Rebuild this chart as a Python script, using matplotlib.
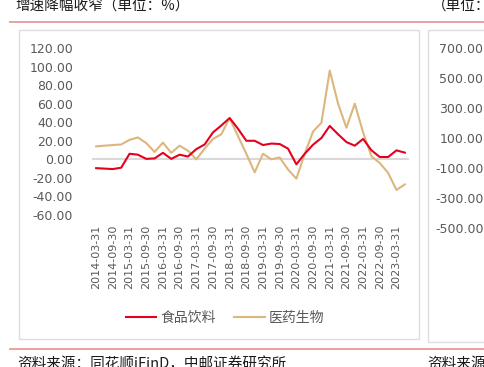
import matplotlib
matplotlib.use("Agg")
import matplotlib.pyplot as plt
import pandas as pd
from matplotlib.patches import Rectangle
from matplotlib.lines import Line2D

plt.rcParams['font.family'] = ['Noto Sans CJK SC', 'DejaVu Sans']

# 季度末日期 2014Q1 ~ 2023Q2
dates = pd.date_range("2014-03-31", periods=38, freq="QE").strftime("%Y-%m-%d").tolist()

# 食品饮料 增速 (%)
food = [-9.5, -10, -10.5, -9, 6, 5, 0.5, 1, 7, 0.5, 5, 3,
        11, 16, 29, 36.5, 44.5, 33, 20, 20, 15.4, 17, 16.5, 11.5,
        -5.4, 6, 15.8, 23, 36, 27, 18.6, 14.7, 22, 9.7, 2.5, 2.5,
        9.7, 7.2]
# 医药生物 增速 (%)
pharma = [14, 14.7, 15.4, 16, 21, 23.6, 17.5, 8, 18, 7, 14.7, 9.3,
          0, 11.5, 22, 27, 44.5, 25, 6, -14, 6, 0, 2, -11,
          -20.8, 6, 30, 39.4, 95.7, 60, 34, 60, 29, 3.2, -4, -14.7,
          -33, -27]

W, H = 485, 367
fig = plt.figure(figsize=(W / 100, H / 100), dpi=100)


def fx(px):
    return px / W


def fy(py):
    return 1 - py / H


# 标题与分隔线
fig.text(fx(15), fy(11), "增速降幅收窄（单位：%）", fontsize=10.5, color="#1a1a1a", va="baseline")
fig.text(fx(432), fy(11), "（单位：", fontsize=10.5, color="#1a1a1a", va="baseline")
fig.add_artist(Line2D([fx(10), 1], [fy(22), fy(22)], color="#E89A9A", lw=1.3))
fig.add_artist(Line2D([fx(10), 1], [fy(349), fy(349)], color="#E89A9A", lw=1.3))
fig.text(fx(17), fy(357), "资料来源：同花顺iFinD，中邮证券研究所", fontsize=10.5, color="#1a1a1a", va="top")
fig.text(fx(427), fy(357), "资料来源", fontsize=10.5, color="#1a1a1a", va="top")

# 面板边框
fig.add_artist(Rectangle((fx(19), fy(339)), fx(400), (339 - 30) / H, fill=False, edgecolor="#DDDDDD", lw=1))
fig.add_artist(Rectangle((fx(428), fy(342)), fx(80), (342 - 30) / H, fill=False, edgecolor="#DDDDDD", lw=1))

# 左图
ax = fig.add_axes([fx(92), fy(215), fx(409 - 92), (215 - 48) / H])
x = list(range(len(dates)))
ax.axhline(0, color="#D9D9D9", lw=1.5, zorder=1)
ax.plot(x, food, color="#E60020", lw=1.5, label="食品饮料", zorder=3)
ax.plot(x, pharma, color="#DDB67F", lw=1.5, label="医药生物", zorder=2)
ax.set_xlim(-0.5, len(dates) - 0.5)
ax.set_ylim(-60, 120)
ax.set_yticks(range(-60, 121, 20))
ax.set_yticklabels([f"{v:.2f}" for v in range(-60, 121, 20)], family="DejaVu Sans", fontsize=9, color="#595959")
ax.set_xticks(x[::2])
ax.set_xticklabels(dates[::2], rotation=90, family="DejaVu Sans", fontsize=8, color="#595959")
ax.tick_params(axis="y", length=0, pad=13.5)
ax.tick_params(axis="x", length=0, pad=7)
for s in ax.spines.values():
    s.set_visible(False)
ax.patch.set_alpha(0)

fig.legend(loc="center", bbox_to_anchor=(fx(225), fy(318)), ncol=2, frameon=False,
           fontsize=10, labelcolor="#595959", handlelength=2.2, handletextpad=0.3,
           columnspacing=1.3)

# 右图 (被截断)
ax2 = fig.add_axes([fx(489), fy(228), 0.3, (228 - 48) / H])
ax2.set_ylim(-500, 700)
ax2.set_yticks(range(-500, 701, 200))
ax2.set_yticklabels([f"{v:.2f}" for v in range(-500, 701, 200)], family="DejaVu Sans", fontsize=9, color="#595959")
ax2.tick_params(axis="y", length=0, pad=4)
ax2.set_xticks([])
for s in ax2.spines.values():
    s.set_visible(False)
ax2.patch.set_alpha(0)

fig.savefig("out.png", dpi=100)
